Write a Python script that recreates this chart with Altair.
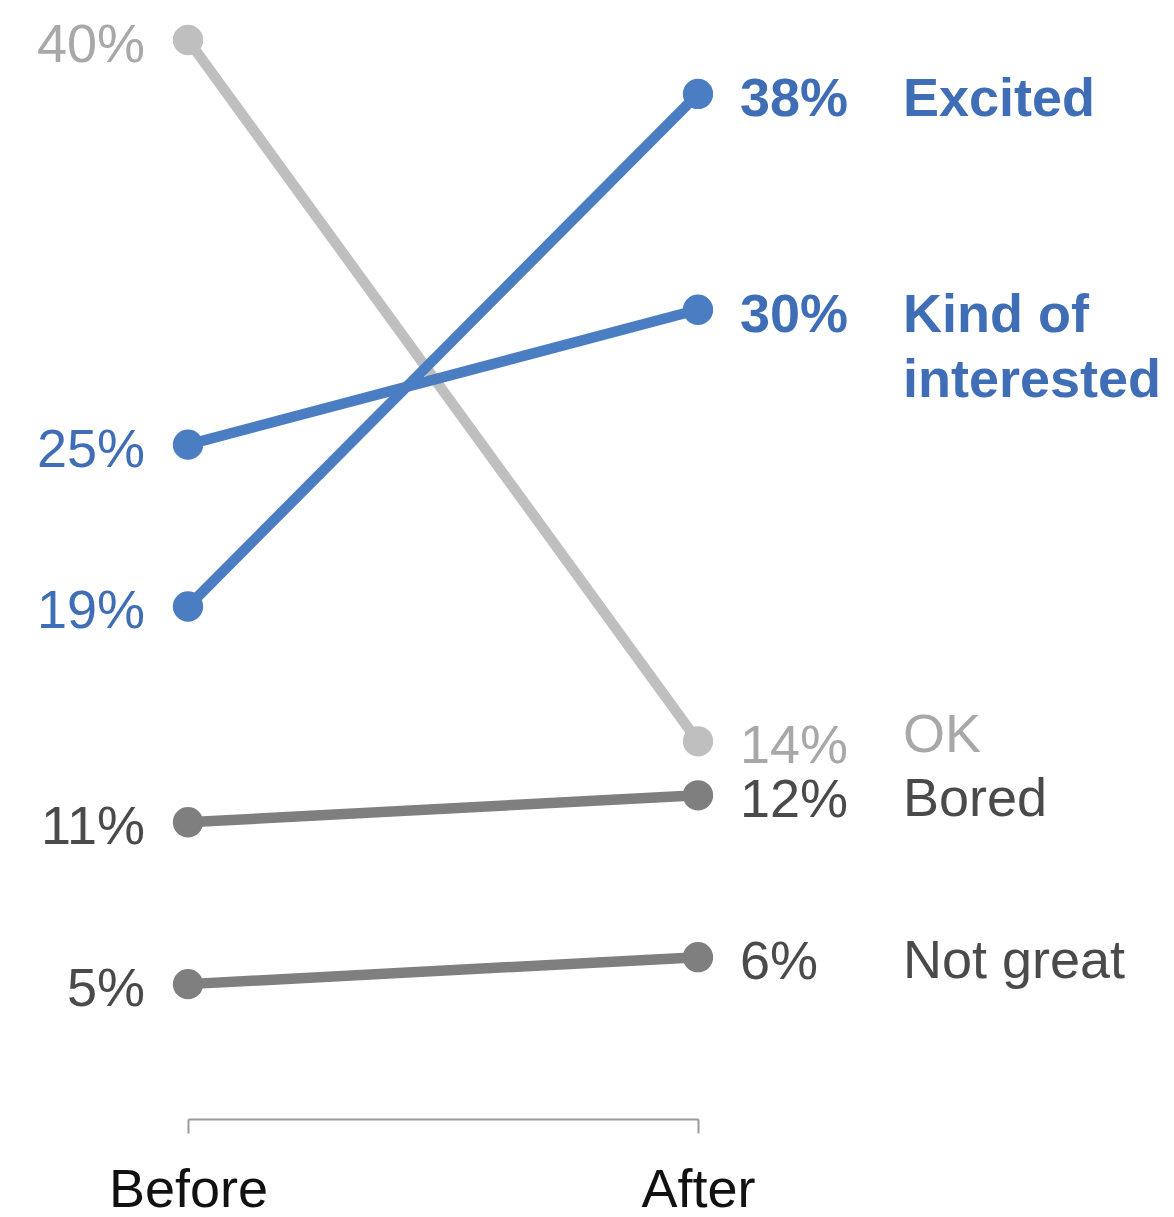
import altair as alt
import pandas as pd

# ---- data ----
categories = ["OK", "Excited", "Kind of interested", "Bored", "Not great"]
cat_labels = ["OK", "Excited", "Kind of\ninterested", "Bored", "Not great"]
before = [40, 19, 25, 11, 5]
after = [14, 38, 30, 12, 6]
periods = ["Before", "After"]

# ---- styles ----
line_colors = ["#BFBFBF", "#4A7DC1", "#4A7DC1", "#7F7F7F", "#7F7F7F"]
text_colors = ["#A8A8A8", "#3F6EB6", "#3F6EB6", "#4A4A4A", "#4A4A4A"]
highlight = ["Excited", "Kind of interested"]
FONT = "Liberation Sans"
FS = 54

rows = []
for c, lab, b, a in zip(categories, cat_labels, before, after):
    for p, v in zip(periods, [b, a]):
        rows.append({"category": c, "label": lab, "period": p, "value": v, "pct": f"{v}%"})
df = pd.DataFrame(rows)

x_enc = alt.X(
    "period:N",
    sort=periods,
    scale=alt.Scale(type="point", padding=0),
    axis=alt.Axis(
        title=None, labelAngle=0, labelFontSize=FS, labelFont=FONT, labelColor="#111111",
        domainColor="#9A9A9A", domainWidth=2, tickColor="#9A9A9A", tickWidth=2,
        tickSize=14, labelPadding=30, grid=False,
    ),
)
y_enc = alt.Y("value:Q", scale=alt.Scale(domain=[0, 40]), axis=None)
line_color = alt.Color("category:N", scale=alt.Scale(domain=categories, range=line_colors), legend=None)
text_color = alt.Color("category:N", scale=alt.Scale(domain=categories, range=text_colors), legend=None)

base = alt.Chart(df)

lines = base.mark_line(strokeWidth=10.5).encode(x=x_enc, y=y_enc, color=line_color, detail="category:N")
points = base.mark_circle(size=920, opacity=1).encode(x=x_enc, y=y_enc, color=line_color)

txt = dict(font=FONT, fontSize=FS, baseline="alphabetic")

left_lbl = base.transform_filter(alt.datum.period == "Before").mark_text(
    align="right", dx=-43, dy=22, **txt
).encode(x=x_enc, y=y_enc, text="pct:N", color=text_color)

right_bold = base.transform_filter(alt.datum.period == "After").transform_filter(
    alt.FieldOneOfPredicate(field="category", oneOf=highlight)
).mark_text(align="left", dx=42, dy=22, fontWeight="bold", **txt).encode(
    x=x_enc, y=y_enc, text="pct:N", color=text_color)

right_norm = base.transform_filter(alt.datum.period == "After").transform_filter(
    {"not": alt.FieldOneOfPredicate(field="category", oneOf=highlight)}
).mark_text(align="left", dx=42, dy=22, **txt).encode(
    x=x_enc, y=y_enc, text="pct:N", color=text_color)

cat_bold = base.transform_filter(alt.datum.period == "After").transform_filter(
    alt.FieldOneOfPredicate(field="category", oneOf=highlight)
).mark_text(align="left", dx=205, dy=22, fontWeight="bold", lineBreak="\n", lineHeight=65, **txt).encode(
    x=x_enc, y=y_enc, text="label:N", color=text_color)

cat_norm = base.transform_filter(alt.datum.period == "After").transform_filter(
    alt.FieldOneOfPredicate(field="category", oneOf=["Bored", "Not great"])
).mark_text(align="left", dx=205, dy=21, **txt).encode(
    x=x_enc, y=y_enc, text="label:N", color=text_color)

cat_ok = base.transform_filter(alt.datum.period == "After").transform_filter(
    alt.datum.category == "OK"
).mark_text(align="left", dx=205, dy=11, **txt).encode(
    x=x_enc, y=y_enc, text="label:N", color=text_color)

chart = alt.layer(
    lines, points, left_lbl, right_bold, right_norm, cat_bold, cat_norm, cat_ok
).resolve_scale(color="independent").properties(
    width=510,
    height=1079,
    background="white",
    autosize=alt.AutoSizeParams(type="none"),
    padding={"left": 188, "top": 40, "right": 476, "bottom": 98},
).configure_view(strokeWidth=0, stroke="transparent")

chart.save("out.html", embed_options={"renderer": "svg", "actions": False})
